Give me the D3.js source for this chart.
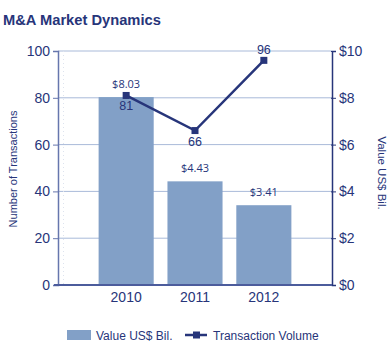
<!DOCTYPE html>
<html>
<head>
<meta charset="utf-8">
<script src="https://cdn.jsdelivr.net/npm/d3@7"></script>
<style>
  body { margin: 0; background: #fff; }
  svg text { font-family: Arial, "Liberation Sans", sans-serif; }
</style>
</head>
<body>
<div id="container"></div>
<script>
const years = ['2010', '2011', '2012'];
const values = [8.03, 4.43, 3.41];        // US$ Bil.
const transactions = [81, 66, 96];
const leftTicks = [0, 20, 40, 60, 80, 100];
const rightTicks = [0, 2, 4, 6, 8, 10];

const w = 390;
const h = 349;
const plotLeft = 58, plotRight = 332, plotTop = 51, plotBottom = 285;
const navy = '#27357a';

const svg = d3.select('#container')
              .append('svg')
              .attr('width', w)
              .attr('height', h);

svg.append('text')
   .attr('x', 3)
   .attr('y', 25)
   .attr('font-size', 14.7)
   .attr('font-weight', 'bold')
   .attr('fill', navy)
   .text('M&A Market Dynamics');

const xScale = d3.scaleBand()
                 .domain(years)
                 .range([plotLeft, plotRight])
                 .paddingInner(0.2)
                 .paddingOuter(0.59);
const yLeft = d3.scaleLinear().domain([0, 100]).range([plotBottom, plotTop]);
const yRight = d3.scaleLinear().domain([0, 10]).range([plotBottom, plotTop]);

// grid
svg.append('g')
   .selectAll('line')
   .data(leftTicks.slice(1))
   .enter()
   .append('line')
   .attr('x1', plotLeft)
   .attr('x2', plotRight)
   .attr('y1', (d) => yLeft(d))
   .attr('y2', (d) => yLeft(d))
   .attr('stroke', '#a9bad9')
   .attr('stroke-width', 1);

svg.append('line')
   .attr('x1', plotLeft + 5.5).attr('x2', plotLeft + 5.5)
   .attr('y1', plotTop).attr('y2', plotBottom)
   .attr('stroke', '#dde3ee')
   .attr('stroke-dasharray', '1,3');

// bars
svg.selectAll('.bar')
   .data(values)
   .enter()
   .append('rect')
   .attr('class', 'bar')
   .attr('x', (d, i) => xScale(years[i]))
   .attr('y', (d) => yRight(d))
   .attr('width', xScale.bandwidth())
   .attr('height', (d) => plotBottom - yRight(d))
   .attr('fill', '#82a0c7');

svg.selectAll('.vlabel')
   .data(values)
   .enter()
   .append('text')
   .attr('class', 'vlabel')
   .attr('x', (d, i) => xScale(years[i]) + xScale.bandwidth() / 2)
   .attr('y', (d) => yRight(d) - 9)
   .attr('text-anchor', 'middle')
   .attr('font-size', 11)
   .style('font-family', '"Open Sans", sans-serif')
   .attr('fill', navy)
   .text((d) => '$' + d.toFixed(2));

// axes
const tickFont = 'Arial, "Liberation Sans", sans-serif';
const axisLeft = d3.axisLeft(yLeft).tickValues(leftTicks).tickSize(5).tickPadding(3);
const gl = svg.append('g')
   .attr('transform', `translate(${plotLeft},0)`)
   .call(axisLeft);
gl.select('.domain').attr('stroke', '#6676ad').attr('stroke-width', 1.5);
gl.selectAll('.tick line').attr('stroke', '#6676ad').attr('x2', -5).attr('x1', 1);
gl.selectAll('.tick text').attr('font-size', 14).attr('fill', navy).style('font-family', tickFont);

const axisRight = d3.axisRight(yRight).tickValues(rightTicks).tickFormat((d) => '$' + d).tickSize(4).tickPadding(3);
const gr = svg.append('g')
   .attr('transform', `translate(${plotRight},0)`)
   .call(axisRight);
gr.select('.domain').attr('stroke', navy).attr('stroke-width', 1.5);
gr.selectAll('.tick line').attr('stroke', navy).attr('x1', -1);
gr.selectAll('.tick text').attr('font-size', 14).attr('fill', navy).style('font-family', tickFont);

svg.append('line')
   .attr('x1', plotLeft - 4).attr('x2', plotRight)
   .attr('y1', plotBottom).attr('y2', plotBottom)
   .attr('stroke', '#4c5c9c')
   .attr('stroke-width', 2);

const xAxis = d3.axisBottom(xScale).tickSize(0).tickPadding(7);
const gx = svg.append('g')
   .attr('transform', `translate(0,${plotBottom})`)
   .call(xAxis);
gx.select('.domain').remove();
gx.selectAll('.tick text').attr('font-size', 14).attr('fill', navy).style('font-family', tickFont);

// axis titles
svg.append('text')
   .attr('transform', `translate(17,169) rotate(-90)`)
   .attr('text-anchor', 'middle')
   .attr('font-size', 11)
   .attr('fill', navy)
   .text('Number of Transactions');

svg.append('text')
   .attr('transform', `translate(378,173) rotate(90)`)
   .attr('text-anchor', 'middle')
   .attr('font-size', 11.5)
   .attr('fill', navy)
   .text('Value US$ Bil.');

// transaction line
const cx = (d, i) => xScale(years[i]) + xScale.bandwidth() / 2;
const line = d3.line()
               .x((d, i) => cx(d, i))
               .y((d) => yLeft(d));

svg.append('path')
   .datum(transactions)
   .attr('d', line)
   .attr('fill', 'none')
   .attr('stroke', navy)
   .attr('stroke-width', 2.5);

svg.selectAll('.marker')
   .data(transactions)
   .enter()
   .append('rect')
   .attr('class', 'marker')
   .attr('x', (d, i) => cx(d, i) - 3.5)
   .attr('y', (d) => yLeft(d) - 3.5)
   .attr('width', 7)
   .attr('height', 7)
   .attr('fill', navy);

// 81 and 66 sit below the point, 96 above
svg.selectAll('.tlabel')
   .data(transactions)
   .enter()
   .append('text')
   .attr('class', 'tlabel')
   .attr('x', (d, i) => cx(d, i))
   .attr('y', (d, i) => i === 2 ? yLeft(d) - 6 : yLeft(d) + 15)
   .attr('text-anchor', 'middle')
   .attr('font-size', 12.5)
   .attr('fill', navy)
   .text((d) => d);

// legend
const legend = svg.append('g');
legend.append('rect')
      .attr('x', 67).attr('y', 330)
      .attr('width', 24).attr('height', 10)
      .attr('fill', '#82a0c7');
legend.append('text')
      .attr('x', 96).attr('y', 339.5)
      .attr('font-size', 12)
      .attr('fill', navy)
      .text('Value US$ Bil.');
legend.append('line')
      .attr('x1', 185).attr('x2', 207)
      .attr('y1', 335).attr('y2', 335)
      .attr('stroke', navy)
      .attr('stroke-width', 2.5);
legend.append('rect')
      .attr('x', 193).attr('y', 331.5)
      .attr('width', 7).attr('height', 7)
      .attr('fill', navy);
legend.append('text')
      .attr('x', 213).attr('y', 339.5)
      .attr('font-size', 12)
      .attr('fill', navy)
      .text('Transaction Volume');
</script>
</body>
</html>
